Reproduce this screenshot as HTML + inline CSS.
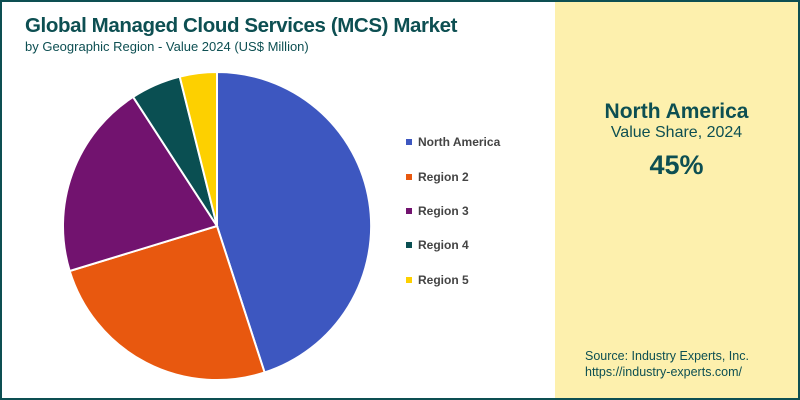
<!DOCTYPE html>
<html><head><style>
body{margin:0;width:800px;height:400px;overflow:hidden;font-family:"Liberation Sans",sans-serif;}
.wrap{position:absolute;left:0;top:0;width:796px;height:396px;border:2px solid #0d4f52;background:#fff;}
.panel{position:absolute;left:553px;top:0;width:243px;height:396px;background:#fdf0ad;}
.t{position:absolute;color:#0d4f52;}
</style></head><body>
<div class="wrap">
<div class="t" style="left:23px;top:12px;font-size:20.5px;font-weight:bold;letter-spacing:-0.4px;">Global Managed Cloud Services (MCS) Market</div>
<div class="t" style="left:23px;top:37px;font-size:13px;">by Geographic Region - Value 2024 (US$ Million)</div>
<div class="panel">
<div class="t" style="left:0;width:243px;text-align:center;top:98px;font-size:21px;font-weight:bold;">North America</div>
<div class="t" style="left:0;width:243px;text-align:center;top:122px;font-size:16px;">Value Share, 2024</div>
<div class="t" style="left:0;width:243px;text-align:center;top:148px;font-size:27px;font-weight:bold;">45%</div>
<div class="t" style="left:30px;top:346px;font-size:12.5px;line-height:16px;">Source: Industry Experts, Inc.<br>https://industry-experts.com/</div>
</div>
</div>
<svg width="800" height="400" style="position:absolute;left:0;top:0">
<g stroke="#fff" stroke-width="2">
<path d="M217,226 L217,72 A154,154 0 0 1 264.6,372.5 Z" fill="#3d57c0"/>
<path d="M217,226 L264.6,372.5 A154,154 0 0 1 69.7,271 Z" fill="#e8580f"/>
<path d="M217,226 L69.7,271 A154,154 0 0 1 133.1,96.9 Z" fill="#72136f"/>
<path d="M217,226 L133.1,96.9 A154,154 0 0 1 179.7,76.6 Z" fill="#0a4f52"/>
<path d="M217,226 L179.7,76.6 A154,154 0 0 1 217,72 Z" fill="#fdd000"/>
</g>
<g font-size="12" font-weight="bold" fill="#444">
<rect x="406" y="139" width="6" height="6" fill="#3d57c0"/><text x="418" y="146">North America</text>
<rect x="406" y="174" width="6" height="6" fill="#e8580f"/><text x="418" y="181">Region 2</text>
<rect x="406" y="208" width="6" height="6" fill="#72136f"/><text x="418" y="215">Region 3</text>
<rect x="406" y="242" width="6" height="6" fill="#0a4f52"/><text x="418" y="249">Region 4</text>
<rect x="406" y="277" width="6" height="6" fill="#fdd000"/><text x="418" y="284">Region 5</text>
</g>
</svg>
</body></html>
